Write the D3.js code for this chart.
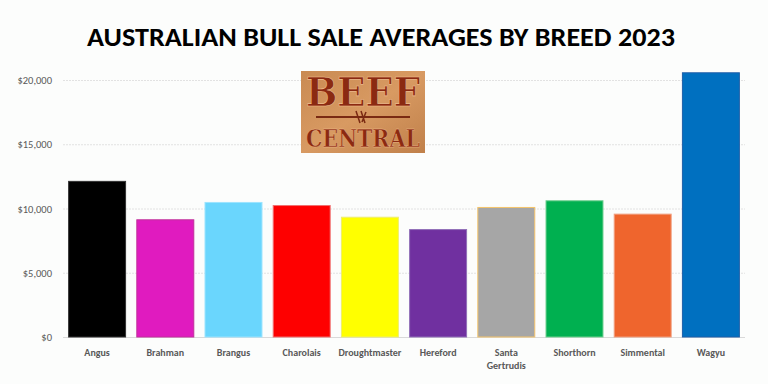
<!DOCTYPE html>
<html><head><meta charset="utf-8">
<script src="https://cdn.jsdelivr.net/npm/d3@7"></script>
<style>body{margin:0;background:#fcfdfc}svg{display:block}</style>
</head><body>
<svg id="c" width="768" height="384"></svg>
<script>
const categories = ["Angus","Brahman","Brangus","Charolais","Droughtmaster","Hereford","Santa Gertrudis","Shorthorn","Simmental","Wagyu"];
const values = [12150,9160,10510,10270,9360,8400,10120,10640,9600,20600];
const colors = ["#000000","#e01bbf","#6ad6fd","#fe0000","#ffff00","#7030a0","#a6a6a6","#00b050","#ef652d","#0070c0"];
const strokes = ["#333","#c0309a","#9ce4ff","#f07070","#eeee70","#9070b8","#f5c46a","#70d090","#f0a080","#1f5fa8"];
const yTicks = [0,5000,10000,15000,20000];
const title = "AUSTRALIAN BULL SALE AVERAGES BY BREED 2023";

const svg = d3.select("#c");
svg.append("rect").attr("width",768).attr("height",384).attr("fill","#fcfdfc");

const x = d3.scaleBand().domain(categories).range([63,745]).paddingInner(0.15).paddingOuter(0.075);
const y = d3.scaleLinear().domain([0,20000]).range([337,80]);

// gridlines
svg.append("g").selectAll("line").data(yTicks).join("line")
  .attr("x1",63).attr("x2",745).attr("y1",d=>y(d)+0.5).attr("y2",d=>y(d)+0.5)
  .attr("stroke",d=>d===0?"#d9d9d9":"#e2e2e2").attr("stroke-width",1).attr("stroke-dasharray",d=>d===0?null:"2,1");

// y axis labels
const fmt = d=>"$"+d3.format(",")(d);
svg.append("g").selectAll("text").data(yTicks).join("text")
  .attr("x",52).attr("y",d=>y(d)+4).attr("text-anchor","end")
  .attr("font-family","Carlito, 'Open Sans', sans-serif").attr("font-size",10.5).attr("fill","#595959")
  .text(fmt);

// bars
svg.append("g").selectAll("rect").data(categories).join("rect")
  .attr("x",d=>x(d)+0.5).attr("y",(d,i)=>y(values[i])+0.5)
  .attr("width",x.bandwidth()-1).attr("height",(d,i)=>y(0)-y(values[i])-0.5)
  .attr("fill",(d,i)=>colors[i]).attr("stroke",(d,i)=>strokes[i]).attr("stroke-width",1);

// category labels
const lab = svg.append("g").attr("font-family","Carlito, 'Open Sans', sans-serif").attr("font-weight","bold")
  .attr("font-size",10).attr("fill","#595959").attr("text-anchor","middle");
categories.forEach(c=>{
  const words = c.split(" ");
  words.forEach((w,j)=>{
    lab.append("text").attr("x",x(c)+x.bandwidth()/2).attr("y",356+j*13).text(w);
  });
});

// title
svg.append("text").attr("x",381).attr("y",46).attr("text-anchor","middle")
  .attr("font-family","Carlito, 'Open Sans', sans-serif").attr("font-weight","bold")
  .attr("font-size",27).attr("fill","#000").attr("textLength",588).attr("lengthAdjust","spacingAndGlyphs")
  .text(title);

// logo
const defs = svg.append("defs");
const g = defs.append("linearGradient").attr("id","lg").attr("x1",0).attr("y1",0).attr("x2",1).attr("y2",1);
g.append("stop").attr("offset","0%").attr("stop-color","#c98a52");
g.append("stop").attr("offset","50%").attr("stop-color","#d89a62");
g.append("stop").attr("offset","100%").attr("stop-color","#c0804a");
const logo = svg.append("g");
logo.append("rect").attr("x",301).attr("y",71).attr("width",124).attr("height",82).attr("fill","url(#lg)");
logo.append("text").attr("x",363).attr("y",106).attr("text-anchor","middle")
  .attr("font-family","'DejaVu Serif', serif").attr("font-weight","bold").attr("font-size",40)
  .attr("fill","#8b2a12").attr("stroke","#f0c090").attr("stroke-width",0.6)
  .attr("textLength",114).attr("lengthAdjust","spacingAndGlyphs").text("BEEF");
logo.append("line").attr("x1",316).attr("x2",410).attr("y1",117).attr("y2",117).attr("stroke","#7a2a12").attr("stroke-width",2);
logo.append("path").attr("d","M356,111 L360,123 M361,111 L365,123 M366,112 L362,122").attr("stroke","#7a2a12").attr("stroke-width",1.5).attr("fill","none");
logo.append("text").attr("x",363).attr("y",147).attr("text-anchor","middle")
  .attr("font-family","'DejaVu Serif', serif").attr("font-weight","bold").attr("font-size",24)
  .attr("fill","#8b2a12").attr("stroke","#f0c090").attr("stroke-width",0.4)
  .attr("textLength",114).attr("lengthAdjust","spacingAndGlyphs").text("CENTRAL");
</script>
</body></html>
